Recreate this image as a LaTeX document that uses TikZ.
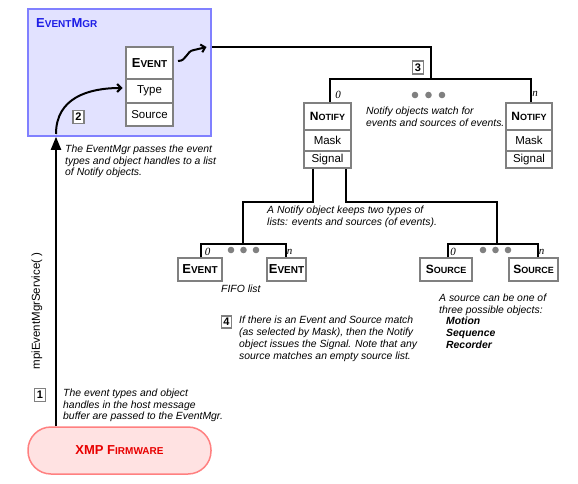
\documentclass[tikz,border=0pt]{standalone}
\usepackage{fontspec}
\setmainfont{Liberation Sans}
\newfontfamily\serifit{Liberation Serif}
\usetikzlibrary{arrows.meta,calc}
\definecolor{mgrfill}{RGB}{226,226,255}
\definecolor{mgrdraw}{RGB}{128,128,255}
\definecolor{mgrtitle}{RGB}{30,30,230}
\definecolor{boxgray}{RGB}{128,128,128}
\definecolor{xmpfill}{RGB}{255,226,226}
\definecolor{xmpdraw}{RGB}{255,128,128}
\definecolor{xmptext}{RGB}{232,0,0}
\definecolor{dotgray}{RGB}{128,128,128}
\newcommand{\fsc}[2]{{\fontsize{12}{12}\selectfont #1}{\fontsize{9}{9}\selectfont #2}}
\newcommand{\fscbig}[2]{{\fontsize{13}{13}\selectfont #1}{\fontsize{10}{10}\selectfont #2}}
\tikzset{
  cell/.style={draw=boxgray, line width=1.5pt, fill=white, inner sep=0pt, font=\fontsize{11.5}{12}\selectfont},
  head/.style={cell, font=\bfseries},
  conn/.style={line width=2pt, draw=black, line join=miter},
  numbox/.style={draw=boxgray, line width=1.3pt, fill=white, inner sep=0pt, minimum width=11pt, minimum height=13pt, font=\bfseries\fontsize{11}{11}\selectfont},
  note/.style={anchor=north west, inner sep=0pt, align=left, font=\fontsize{10.4}{11.8}\selectfont\itshape},
  idx/.style={inner sep=0pt, font=\serifit\itshape\fontsize{11}{11}\selectfont},
}
\begin{document}
\begin{tikzpicture}[x=1pt,y=-1pt]
\useasboundingbox (0,0) rectangle (578,484);
% EventMgr box
\node[draw=mgrdraw, fill=mgrfill, line width=1.5pt, minimum width=183pt, minimum height=127pt, inner sep=0pt] (mgr) at (119.5,72.5) {};
\node[anchor=west, inner sep=0pt, text=mgrtitle, font=\bfseries] (mgrt) at (36,23) {\fscbig{E}{VENT}\fscbig{M}{GR}};
% Event stack
\node[head, minimum width=47pt, minimum height=32pt] (evh) at (149.5,63) {\fscbig{E}{VENT}};
\node[cell, minimum width=47pt, minimum height=24pt] (evt) at (149.5,91) {Type};
\node[cell, minimum width=47pt, minimum height=23pt] (evs) at (149.5,114.5) {Source};
% Notify objects
\node[head, minimum width=47pt, minimum height=27pt] (n0h) at (327.5,116.5) {\fsc{N}{OTIFY}};
\node[cell, minimum width=47pt, minimum height=21pt] (n0m) at (327.5,140.5) {Mask};
\node[cell, minimum width=47pt, minimum height=17pt] (n0s) at (327.5,159.5) {Signal};
\node[head, minimum width=46pt, minimum height=27pt] (nnh) at (529,116.5) {\fsc{N}{OTIFY}};
\node[cell, minimum width=46pt, minimum height=21pt] (nnm) at (529,140.5) {Mask};
\node[cell, minimum width=46pt, minimum height=17pt] (nns) at (529,159.5) {Signal};
% Event list
\node[head, minimum width=44pt, minimum height=23pt] (e0) at (200,269.5) {\fscbig{E}{VENT}};
\node[head, minimum width=39pt, minimum height=23pt] (en) at (286.5,269.5) {\fscbig{E}{VENT}};
% Source list
\node[head, minimum width=52pt, minimum height=23pt] (s0) at (446,269.5) {\fsc{S}{OURCE}};
\node[head, minimum width=49pt, minimum height=23pt] (sn) at (533.5,269.5) {\fsc{S}{OURCE}};
% XMP firmware
\node[draw=xmpdraw, fill=xmpfill, line width=1.5pt, rounded corners=23pt, minimum width=183pt, minimum height=47pt, inner sep=0pt, text=xmptext, font=\bfseries] (xmp) at (119.5,450.5) {\fscbig{XMP F}{IRMWARE}};
% rotated service label
\node[rotate=90, inner sep=0pt, font=\fontsize{11.5}{12}\selectfont] (svc) at (37,311) {mpiEventMgrService( )};
% number boxes
\node[numbox] (b2) at (78.5,117) {2};
\node[numbox] (b3) at (418,67.5) {3};
\node[numbox, minimum width=10pt, minimum height=12pt] (b4) at (226.5,322) {4};
\node[numbox] (b1) at (40,395) {1};
% notes
\node[note] (t2) at (65,144.5) {The EventMgr passes the event\\types and object handles to a list\\of Notify objects.};
\node[note] (t3) at (366,106.5) {Notify objects watch for\\events and sources of events.};
\node[note] (tA) at (267,205.5) {A Notify object keeps two types of\\lists: events and sources (of events).};
\node[note] (tF) at (221,284.5) {FIFO list};
\node[note] (t4) at (239,316) {If there is an Event and Source match\\(as selected by Mask), then the Notify\\object issues the Signal. Note that any\\source matches an empty source list.};
\node[note] (tS) at (439,293.5) {A source can be one of\\three possible objects:\\\hspace*{7pt}\textbf{Motion}\\\hspace*{7pt}\textbf{Sequence}\\\hspace*{7pt}\textbf{Recorder}};
\node[note] (t1) at (63,388.5) {The event types and object\\handles in the host message\\buffer are passed to the EventMgr.};
% indices
\node[idx] (i1) at (338,95) {0};
\node[idx] (i2) at (535,94) {n};
\node[idx] (i3) at (207.5,252) {0};
\node[idx] (i4) at (289.5,252) {n};
\node[idx] (i5) at (453,252) {0};
\node[idx] (i6) at (541.5,252) {n};
% dots
\foreach \x in {415,428.5,442} \fill[dotgray] (\x,95) circle (3.3);
\foreach \x in {231,243.5,256} \fill[dotgray] (\x,250) circle (3.3);
\foreach \x in {483,495.5,508} \fill[dotgray] (\x,250) circle (3.3);
% junction coordinates
\coordinate (ax) at (56,0);
\coordinate (nT) at (431,47);
\coordinate (nL) at (330,79);
\coordinate (nR) at (531,79);
\coordinate (sL) at (313,202);
\coordinate (sR) at (346,202);
\coordinate (eJ) at (243,244);
\coordinate (srJ) at (497,244);
\coordinate (eL) at (201,244);
\coordinate (eR) at (286,244);
\coordinate (srL) at (448,244);
\coordinate (srR) at (538,244);
\coordinate (cst) at (56,134);
\coordinate (ctip) at (122.5,88);
\coordinate (wst) at (178,61);
\coordinate (wend) at (206.5,47);
% connectors
\draw[conn, -{Triangle[length=13pt,width=10pt]}] (xmp.north -| ax) -- (mgr.south -| ax);
\draw[conn, -{Straight Barb[length=4pt,width=8pt]}] (cst) .. controls (56,98) and (88,88) .. (ctip);
\draw[conn, -{Straight Barb[length=4pt,width=8pt]}] (wst) .. controls (187,61) and (186,51) .. (194,50) .. controls (199,49) .. (wend);
\draw[conn] (mgr.east |- nT) -- (nT) -- (nT |- nL);
\draw[conn] (n0h.north -| nL) -- (nL) -- (nR) -- (nnh.north -| nR);
\draw[conn] (n0s.south -| sL) -- (sL) -| (eJ);
\draw[conn] (n0s.south -| sR) -- (sR) -| (srJ);
\draw[conn] (e0.north -| eL) -- (eL) -- (eR) -- (en.north -| eR);
\draw[conn] (s0.north -| srL) -- (srL) -- (srR) -- (sn.north -| srR);
\end{tikzpicture}
\end{document}
